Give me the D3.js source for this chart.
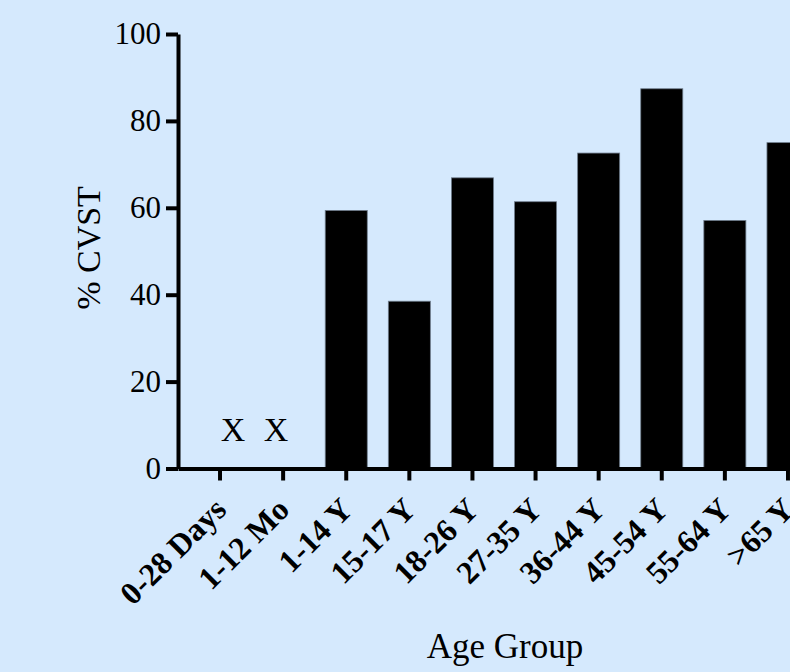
<!DOCTYPE html>
<html>
<head>
<meta charset="utf-8">
<script src="https://cdn.jsdelivr.net/npm/d3@7/dist/d3.min.js"></script>
<style>
  html, body { margin: 0; padding: 0; background: #d5e9fd; overflow: hidden; }
  svg { display: block; }
  text { font-family: "Liberation Serif", "Times New Roman", serif; fill: #000; }
</style>
</head>
<body>
<svg id="chart" width="790" height="672"></svg>
<script>
const categories = ["0-28 Days", "1-12 Mo", "1-14 Y", "15-17 Y", "18-26 Y", "27-35 Y", "36-44 Y", "45-54 Y", "55-64 Y", ">65 Y"];
const values = [null, null, 59.4, 38.5, 66.9, 61.4, 72.6, 87.4, 57.1, 75.0];
const yTicks = [0, 20, 40, 60, 80, 100];
const missingMarks = [{cat: "0-28 Days", label: "X", dx: 13}, {cat: "1-12 Mo", label: "X", dx: -7}];

const svg = d3.select("#chart");
const x0 = 178, yTop = 34, yBase = 468.5;

const x = d3.scaleBand().domain(categories).range([x0, 830]).paddingInner(0.334).paddingOuter(0.333);
const y = d3.scaleLinear().domain([0, 100]).range([yBase, yTop]);

// bars
svg.append("g").selectAll("rect")
  .data(categories.map((c, i) => ({c, v: values[i]})).filter(d => d.v != null))
  .join("rect")
  .attr("x", d => x(d.c))
  .attr("width", x.bandwidth())
  .attr("y", d => y(d.v))
  .attr("height", d => y(0) - y(d.v))
  .attr("fill", "#000")
  .attr("stroke", "#6f7d8c")
  .attr("stroke-width", 0.8);

// X marks for missing data
svg.append("g").selectAll("text")
  .data(missingMarks)
  .join("text")
  .attr("x", d => x(d.cat) + x.bandwidth() / 2 + d.dx)
  .attr("y", y(0) - 28)
  .attr("text-anchor", "middle")
  .attr("font-size", 34)
  .text(d => d.label);

// y axis
const yAxis = svg.append("g")
  .attr("transform", `translate(${x0},0)`)
  .call(d3.axisLeft(y).tickValues(yTicks).tickSize(12).tickSizeOuter(0).tickPadding(5));
yAxis.select(".domain").attr("stroke-width", 4).attr("stroke", "#000");
yAxis.selectAll(".tick line").attr("stroke-width", 4).attr("stroke", "#000");
yAxis.selectAll(".tick text").attr("font-size", 31).attr("font-family", "Liberation Serif, serif").attr("dy", "0.32em");

// x axis
const xAxis = svg.append("g")
  .attr("transform", `translate(0,${yBase})`)
  .call(d3.axisBottom(x).tickSize(12).tickSizeOuter(0));
xAxis.select(".domain").attr("stroke-width", 4).attr("stroke", "#000");
xAxis.selectAll(".tick line").attr("stroke-width", 4).attr("stroke", "#000");
xAxis.selectAll(".tick text")
  .attr("font-size", 32)
  .attr("font-weight", "bold")
  .attr("font-family", "Liberation Serif, serif")
  .attr("text-anchor", "end")
  .attr("dy", null)
  .attr("y", 0)
  .attr("transform", "translate(8,43) rotate(-45)");

// axis titles
svg.append("text")
  .attr("transform", `translate(100,248) rotate(-90)`)
  .attr("text-anchor", "middle")
  .attr("font-size", 34)
  .text("% CVST");

svg.append("text")
  .attr("x", 505)
  .attr("y", 658)
  .attr("text-anchor", "middle")
  .attr("font-size", 35)
  .text("Age Group");
</script>
</body>
</html>
